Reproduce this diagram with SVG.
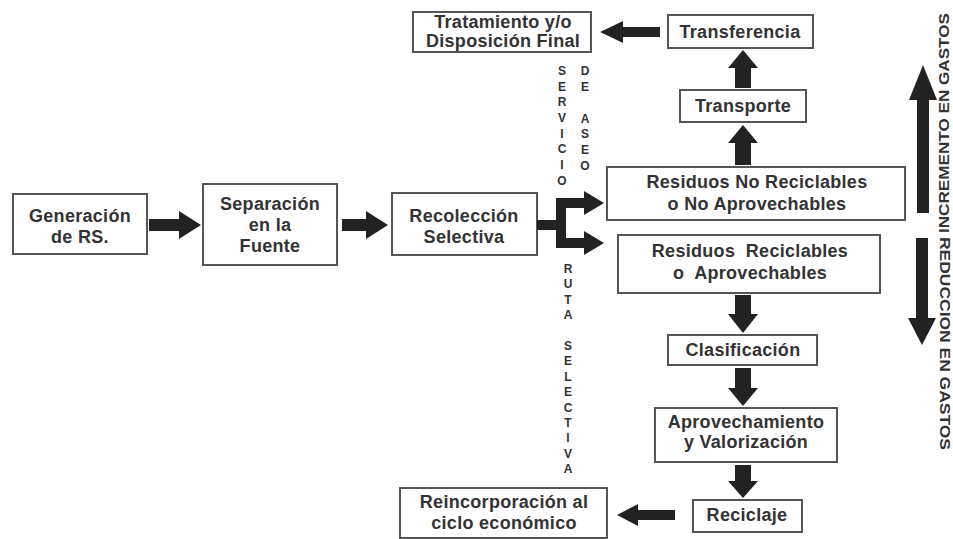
<svg xmlns="http://www.w3.org/2000/svg" width="953" height="539" viewBox="0 0 953 539">
<style>
.box{fill:#fff;stroke:#555;stroke-width:2}
.t{font-family:"Liberation Sans",Arial,sans-serif;font-weight:bold;font-size:18px;fill:#333;text-anchor:middle;letter-spacing:0.3px}
.v{font-family:"Liberation Sans",Arial,sans-serif;font-weight:bold;font-size:12px;fill:#333;text-anchor:middle}
.s{font-family:"Liberation Sans",Arial,sans-serif;font-weight:bold;font-size:14px;fill:#333}
.a{fill:#222}
.pre{white-space:pre}
</style>
<rect width="953" height="539" fill="#fff"/>
<g id="generacion"><rect class="box" x="13" y="194" width="134" height="60"/><text class="t" x="80" y="222">Generación</text><text class="t" x="80" y="243">de RS.</text></g>
<g id="separacion"><rect class="box" x="203" y="184" width="134" height="81"/><text class="t" x="270" y="210">Separación</text><text class="t" x="270" y="231">en la</text><text class="t" x="270" y="252">Fuente</text></g>
<g id="recoleccion"><rect class="box" x="392" y="193" width="145" height="62"/><text class="t" x="464" y="222">Recolección</text><text class="t" x="464" y="243">Selectiva</text></g>
<g id="tratamiento"><rect class="box" x="413" y="12" width="178" height="40"/><text class="t" x="503" y="28">Tratamiento y/o</text><text class="t" x="503" y="47">Disposición Final</text></g>
<g id="transferencia"><rect class="box" x="668" y="15" width="145" height="33"/><text class="t" x="740" y="38">Transferencia</text></g>
<g id="transporte"><rect class="box" x="680" y="90" width="126" height="32"/><text class="t" x="743" y="112">Transporte</text></g>
<g id="noreciclables"><rect class="box" x="607" y="167" width="298" height="53"/><text class="t" x="757" y="188">Residuos No Reciclables</text><text class="t" x="757" y="210">o No Aprovechables</text></g>
<g id="reciclables"><rect class="box" x="618" y="235" width="262" height="58"/><text class="t pre" x="750" y="257">Residuos  Reciclables</text><text class="t pre" x="750" y="279">o  Aprovechables</text></g>
<g id="clasificacion"><rect class="box" x="668" y="335" width="149" height="30"/><text class="t" x="743" y="356">Clasificación</text></g>
<g id="aprovechamiento"><rect class="box" x="655" y="408" width="182" height="54"/><text class="t" x="746" y="428">Aprovechamiento</text><text class="t" x="746" y="448">y Valorización</text></g>
<g id="reciclaje"><rect class="box" x="693" y="500" width="109" height="32"/><text class="t" x="747" y="521">Reciclaje</text></g>
<g id="reincorporacion"><rect class="box" x="400" y="488" width="207" height="50"/><text class="t" x="504" y="508">Reincorporación al</text><text class="t" x="504" y="529">ciclo económico</text></g>
<g id="labels">
<text class="v" x="562" y="75">S</text><text class="v" x="562" y="91">E</text><text class="v" x="562" y="106">R</text><text class="v" x="562" y="122">V</text><text class="v" x="562" y="138">I</text><text class="v" x="562" y="153">C</text><text class="v" x="562" y="169">I</text><text class="v" x="562" y="185">O</text>
<text class="v" x="585" y="75">D</text><text class="v" x="585" y="91">E</text><text class="v" x="585" y="123">A</text><text class="v" x="585" y="138">S</text><text class="v" x="585" y="154">E</text><text class="v" x="585" y="170">O</text>
<text class="v" x="568" y="273">R</text><text class="v" x="568" y="288">U</text><text class="v" x="568" y="304">T</text><text class="v" x="568" y="319">A</text><text class="v" x="568" y="350">S</text><text class="v" x="568" y="365">E</text><text class="v" x="568" y="381">L</text><text class="v" x="568" y="396">E</text><text class="v" x="568" y="412">C</text><text class="v" x="568" y="427">T</text><text class="v" x="568" y="442">I</text><text class="v" x="568" y="458">V</text><text class="v" x="568" y="473">A</text>
<text class="s" transform="translate(949,233) rotate(-90)" textLength="220" lengthAdjust="spacingAndGlyphs">INCREMENTO EN GASTOS</text>
<text class="s" transform="translate(940,237) rotate(90)" textLength="213" lengthAdjust="spacingAndGlyphs">REDUCCION EN GASTOS</text>
</g>
<g id="connectors">
<polygon class="a" points="149,219 179,219 179,211 201,225 179,239 179,231 149,231"/>
<polygon class="a" points="342,219 366,219 366,211 388,225 366,239 366,231 342,231"/>
<path class="a" d="M537,220 L556,220 L556,198 L584,198 L584,191 L604,203 L584,215 L584,208 L566,208 L566,238 L584,238 L584,231 L604,243 L584,255 L584,248 L556,248 L556,230 L537,230 Z"/>
<polygon class="a" points="735,165 751,165 751,143 758,143 743,125 728,143 735,143"/>
<polygon class="a" points="735,88 751,88 751,68 758,68 743,50 728,68 735,68"/>
<polygon class="a" points="660,27 623,27 623,21 600,32 623,43 623,37 660,37"/>
<polygon class="a" points="735,295 751,295 751,314 758,314 743,333 728,314 735,314"/>
<polygon class="a" points="735,368 751,368 751,388 758,388 743,406 728,388 735,388"/>
<polygon class="a" points="735,465 751,465 751,481 758,481 743,498 728,481 735,481"/>
<polygon class="a" points="675,510 638,510 638,504 617,515 638,526 638,520 675,520"/>
<polygon class="a" points="917,213 929,213 929,100 937,100 923,65 909,100 917,100"/>
<polygon class="a" points="916,238 928,238 928,318 936,318 922,345 908,318 916,318"/>
</g>
</svg>
